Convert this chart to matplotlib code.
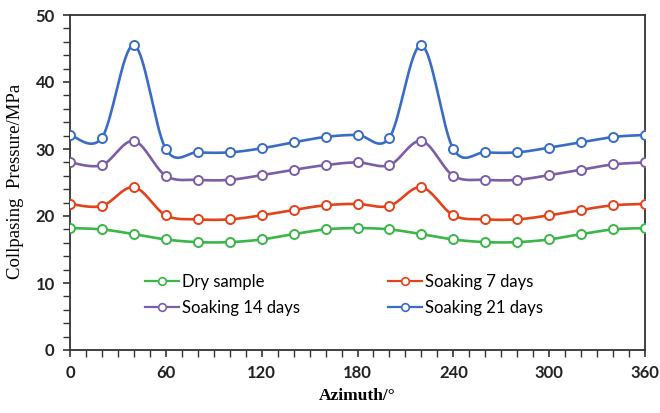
import numpy as np
import matplotlib
matplotlib.use("Agg")
import matplotlib.pyplot as plt
from matplotlib.ticker import MultipleLocator
from matplotlib.lines import Line2D

azimuth = [0, 20, 40, 60, 80, 100, 120, 140, 160, 180, 200, 220, 240, 260, 280, 300, 320, 340, 360]
dry = [18.2, 18.0, 17.3, 16.5, 16.1, 16.1, 16.5, 17.3, 18.0, 18.2, 18.0, 17.3, 16.5, 16.1, 16.1, 16.5, 17.3, 18.0, 18.2]
soak7 = [21.8, 21.5, 24.3, 20.1, 19.5, 19.5, 20.1, 20.9, 21.6, 21.8, 21.5, 24.3, 20.1, 19.5, 19.5, 20.1, 20.9, 21.6, 21.8]
soak14 = [28.0, 27.6, 31.2, 26.0, 25.4, 25.4, 26.1, 26.9, 27.6, 28.0, 27.6, 31.2, 26.0, 25.4, 25.4, 26.1, 26.9, 27.7, 28.0]
soak21 = [32.1, 31.7, 45.5, 30.0, 29.5, 29.5, 30.1, 31.0, 31.8, 32.1, 31.7, 45.5, 30.0, 29.5, 29.5, 30.2, 31.0, 31.8, 32.1]
labels = ["Dry sample", "Soaking 7 days", "Soaking 14 days", "Soaking 21 days"]
colors = ["#3cb54a", "#e2421c", "#7b5ea7", "#3a6cc6"]


def smooth(x, y, n=20):
    # Catmull-Rom (Excel-style) smoothing of the drawn line
    x = np.asarray(x, float); y = np.asarray(y, float)
    px = np.concatenate([[x[0]], x, [x[-1]]])
    py = np.concatenate([[y[0]], y, [y[-1]]])
    xs, ys = [], []
    t = np.linspace(0, 1, n, endpoint=False)
    for i in range(1, len(px) - 2):
        p0 = np.array([px[i - 1], py[i - 1]]); p1 = np.array([px[i], py[i]])
        p2 = np.array([px[i + 1], py[i + 1]]); p3 = np.array([px[i + 2], py[i + 2]])
        c1 = p1 + (p2 - p0) / 6.0
        c2 = p2 - (p3 - p1) / 6.0
        for tt in t:
            b = ((1 - tt) ** 3) * p1 + 3 * ((1 - tt) ** 2) * tt * c1 + 3 * (1 - tt) * tt ** 2 * c2 + tt ** 3 * p2
            xs.append(b[0]); ys.append(b[1])
    xs.append(x[-1]); ys.append(y[-1])
    return np.array(xs), np.array(ys)


fig = plt.figure(figsize=(6.6, 4.13), dpi=100)
ax = fig.add_axes([70 / 660, 1 - 350 / 413, 575 / 660, 335 / 413])

handles = []
for ys, lab, col in zip([dry, soak7, soak14, soak21], labels, colors):
    sx, sy = smooth(azimuth, ys)
    ax.plot(sx, sy, color=col, lw=1.9, zorder=2)
    ax.plot(azimuth, ys, ls="none", marker="o", ms=6.5, mfc="white", mec=col, mew=1.4, zorder=3)
    handles.append(Line2D([], [], color=col, lw=1.6, marker="o", ms=5.5, mfc="white", mec=col, mew=1.2))

ax.set_xlim(0, 360)
ax.set_ylim(0, 50)
ax.xaxis.set_major_locator(MultipleLocator(60))
ax.xaxis.set_minor_locator(MultipleLocator(10))
ax.yaxis.set_major_locator(MultipleLocator(10))
ax.yaxis.set_minor_locator(MultipleLocator(2))
for s in ax.spines.values():
    s.set_color("#333333")
    s.set_linewidth(1.3)
ax.tick_params(which="major", direction="out", length=5, width=1.2, color="#333333", pad=6)
ax.tick_params(which="minor", direction="out", length=5, width=1.0, color="#333333")
for lab in ax.get_xticklabels() + ax.get_yticklabels():
    lab.set_fontfamily("Lato")
    lab.set_fontweight("bold")
    lab.set_fontsize(12)
    lab.set_color("#222222")

order = [0, 2, 1, 3]
leg = ax.legend([handles[i] for i in order], [labels[i] for i in order], ncol=2, frameon=False,
                loc="upper left", bbox_to_anchor=(0.105, 0.272), prop={"family": "Lato", "size": 12},
                handlelength=2.0, handletextpad=0.2, columnspacing=5.3, labelspacing=0.6)

fig.text(357 / 660, 1 - 396 / 413, "Azimuth/°", family="Liberation Serif", weight="bold",
         fontsize=12.5, ha="center", va="center")
fig.text(16 / 660, 1 - 181 / 413, "Collpasing  Pressure/MPa", family="Liberation Serif",
         fontsize=13.5, ha="center", va="center", rotation=90)

fig.savefig("out.png", dpi=100)
